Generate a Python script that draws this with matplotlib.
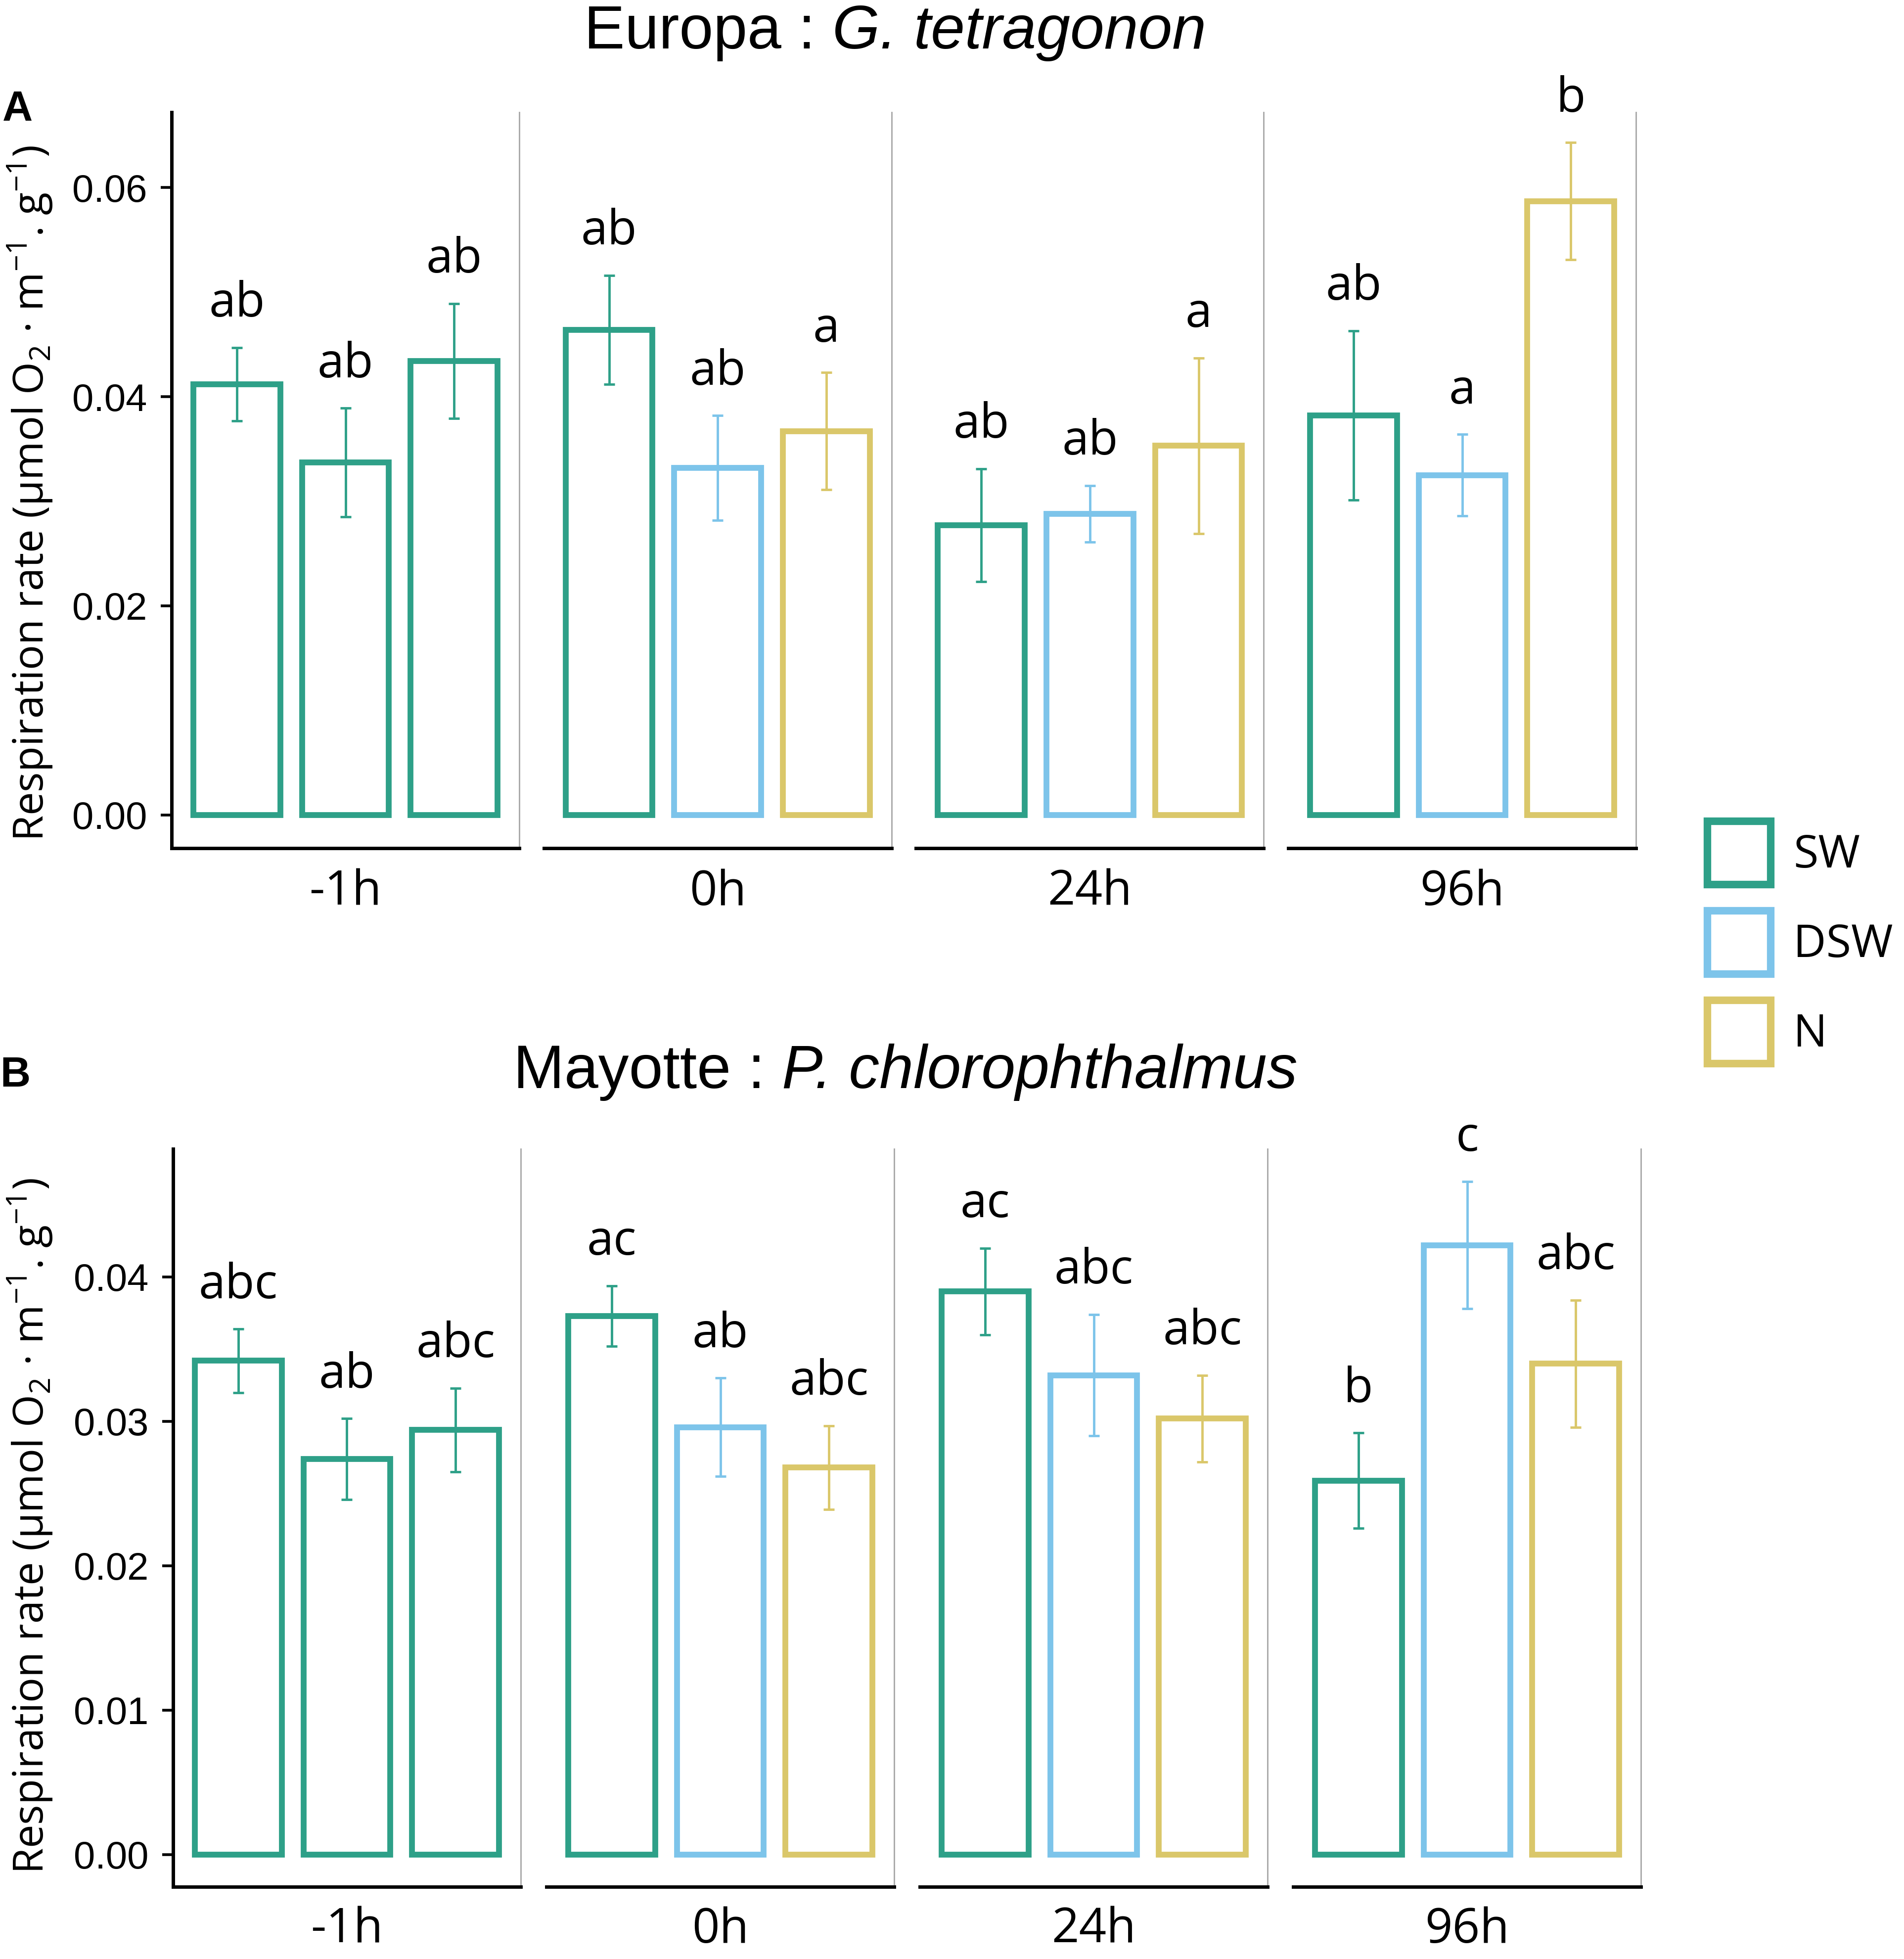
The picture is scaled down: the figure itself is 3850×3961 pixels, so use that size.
import matplotlib
matplotlib.use('Agg')
import matplotlib.pyplot as plt
from matplotlib.patches import Patch

# ---------------- data ----------------
times = ['-1h', '0h', '24h', '96h']
treatments = ['SW', 'DSW', 'N']
# treatment shown by each bar (at -1h all fish are still in SW)
bar_treat = [['SW', 'SW', 'SW'],
             ['SW', 'DSW', 'N'],
             ['SW', 'DSW', 'N'],
             ['SW', 'DSW', 'N']]

# Panel A : Europa, G. tetragonon
eu_mean = [[0.0412, 0.0337, 0.0434],
           [0.0464, 0.0332, 0.0367],
           [0.0277, 0.0288, 0.0353],
           [0.0382, 0.0325, 0.0587]]
eu_se = [[0.0035, 0.0052, 0.0055],
         [0.0052, 0.0050, 0.0056],
         [0.0054, 0.0027, 0.0084],
         [0.0081, 0.0039, 0.0056]]
eu_letters = [['ab', 'ab', 'ab'],
              ['ab', 'ab', 'a'],
              ['ab', 'ab', 'a'],
              ['ab', 'a', 'b']]

# Panel B : Mayotte, P. chlorophthalmus
ma_mean = [[0.0342, 0.0274, 0.0294],
           [0.0373, 0.0296, 0.0268],
           [0.0390, 0.0332, 0.0302],
           [0.0259, 0.0422, 0.0340]]
ma_se = [[0.0022, 0.0028, 0.0029],
         [0.0021, 0.0034, 0.0029],
         [0.0030, 0.0042, 0.0030],
         [0.0033, 0.0044, 0.0044]]
ma_letters = [['abc', 'ab', 'abc'],
              ['ac', 'ab', 'abc'],
              ['ac', 'abc', 'abc'],
              ['b', 'c', 'abc']]

eu_ticks = [0.00, 0.02, 0.04, 0.06]
ma_ticks = [0.00, 0.01, 0.02, 0.03, 0.04]

colors = {'SW': '#2ea088', 'DSW': '#7dc4ea', 'N': '#dac76a'}

# ---------------- style ----------------
TXT = 'Open Sans'
NUM = 'Liberation Sans'
W, H = 3850, 3961
fig = plt.figure(figsize=(W / 100, H / 100), dpi=100)

ylab = ('Respiration rate (µmol O$_\\mathregular{2}$ · m$^\\mathregular{-1}$.'
        ' g$^\\mathregular{-1}$)')


def fx(px):
    return px / W


def fy(py):
    return 1 - py / H


def draw_panel(means, ses, letters, ticks, ylim, top_px, bot_px, left_px, step_px,
               width_px, xlab_base_px):
    for i, t in enumerate(times):
        ax = fig.add_axes([fx(left_px + i * step_px), fy(bot_px), width_px / W,
                           (bot_px - top_px) / H])
        xs = [1, 2, 3]
        cols = [colors[k] for k in bar_treat[i]]
        ax.bar(xs, means[i], width=0.8, facecolor='white', edgecolor=cols,
               linewidth=8.5, joinstyle='miter', zorder=2)
        for xi, m, s, c, lab in zip(xs, means[i], ses[i], cols, letters[i]):
            ax.errorbar(xi, m, yerr=s, color=c, lw=3.5, capsize=8, capthick=3.5,
                        zorder=3)
            ax.annotate(lab, (xi, m + s), xytext=(0, 45), textcoords='offset points',
                        ha='center', va='baseline', fontsize=70, family=TXT)
        ax.set_xlim(0.4, 3.6)
        ax.set_ylim(*ylim)
        ax.set_xticks([])
        ax.spines['top'].set_visible(False)
        ax.spines['right'].set_color('#a6a6a6')
        ax.spines['right'].set_linewidth(2)
        ax.spines['bottom'].set_linewidth(5)
        ax.spines['bottom'].set_color('black')
        if i == 0:
            ax.spines['left'].set_linewidth(5)
            ax.set_yticks(ticks)
            ax.set_yticklabels(['%.2f' % v for v in ticks], fontsize=56, family=NUM)
            ax.tick_params(axis='y', length=16, width=4, pad=20)
        else:
            ax.spines['left'].set_visible(False)
            ax.set_yticks([])
        fig.text(fx(left_px + i * step_px + width_px / 2), fy(xlab_base_px), t,
                 ha='center', va='baseline', fontsize=70, family=TXT)


def mixed_title(cx_px, base_px, normal, italic, size):
    r = fig.canvas.get_renderer()
    t1 = fig.text(0, fy(base_px), normal, fontsize=size, family=NUM, va='baseline')
    t2 = fig.text(0, fy(base_px), italic, fontsize=size, family=NUM, style='italic',
                  va='baseline')
    w1 = t1.get_window_extent(r).width
    w2 = t2.get_window_extent(r).width
    x0 = cx_px - (w1 + w2) / 2
    t1.set_x(fx(x0))
    t2.set_x(fx(x0 + w1))


# Panel A
draw_panel(eu_mean, eu_se, eu_letters, eu_ticks, (-0.00317, 0.06719),
           227, 1715, 347, 752.7, 703, 1830)
# Panel B
draw_panel(ma_mean, ma_se, ma_letters, ma_ticks, (-0.00223, 0.04887),
           2323, 3815, 350, 755, 703, 3928)

# y labels
fig.text(fx(88), fy(997), ylab, rotation=90, rotation_mode='anchor', ha='center',
         va='baseline', fontsize=61, family=TXT)
fig.text(fx(88), fy(3085), ylab, rotation=90, rotation_mode='anchor', ha='center',
         va='baseline', fontsize=61, family=TXT)

# titles
mixed_title(1810, 98, 'Europa : ', 'G. tetragonon', 89)
mixed_title(1831, 2200, 'Mayotte : ', 'P. chlorophthalmus', 89)

# panel letters
fig.text(fx(5), fy(244), 'A', fontsize=61, fontweight='bold', family=NUM, va='baseline')
fig.text(fx(0), fy(2197), 'B', fontsize=61, fontweight='bold', family=NUM, va='baseline')

# legend
handles = [Patch(facecolor='white', edgecolor=colors[k], linewidth=11, label=k,
                 joinstyle='miter') for k in treatments]
fig.legend(handles=handles, loc='upper left', bbox_to_anchor=(fx(3452), fy(1660)),
           frameon=False, prop={'family': TXT, 'size': 66}, handlelength=1.4,
           handleheight=1.77, labelspacing=0.58, handletextpad=0.5, borderpad=0,
           borderaxespad=0)

fig.savefig('out.png', dpi=100, facecolor='white')
